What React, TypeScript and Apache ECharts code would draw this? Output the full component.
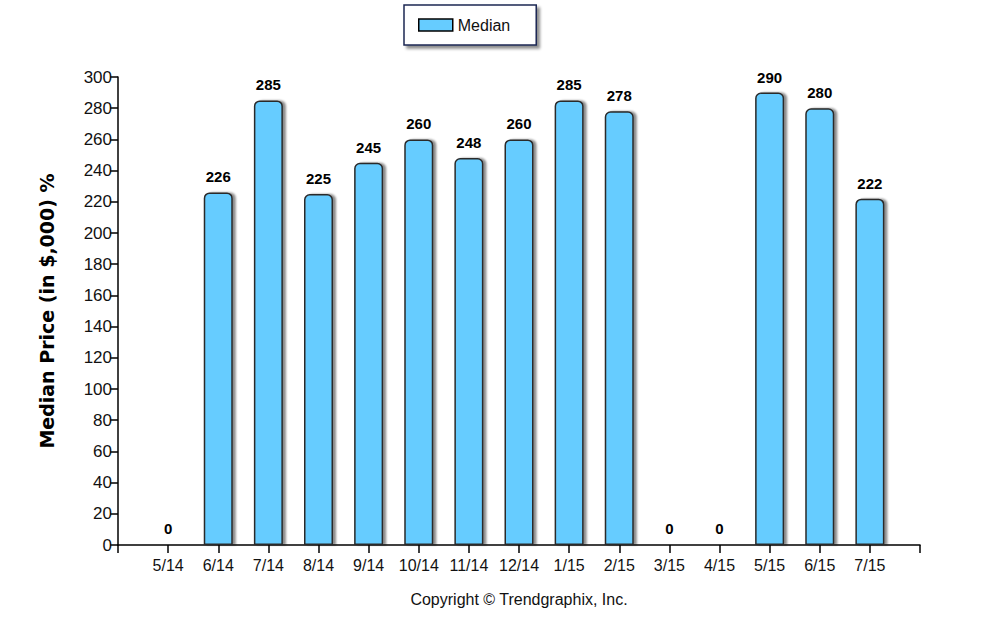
import React, { useEffect, useRef } from "react";
import * as echarts from "echarts";

const categories = ["", "5/14", "6/14", "7/14", "8/14", "9/14", "10/14", "11/14", "12/14", "1/15", "2/15", "3/15", "4/15", "5/15", "6/15", "7/15", ""];
const medianValues: (number | null)[] = [null, 0, 226, 285, 225, 245, 260, 248, 260, 285, 278, 0, 0, 290, 280, 222, null];
const seriesName = "Median";
const yAxisTitle = "Median Price (in $,000) %";
const copyright = "Copyright \u00A9 Trendgraphix, Inc.";

export default function App() {
  const ref = useRef<HTMLDivElement>(null);
  useEffect(() => {
    if (!ref.current) return;
    const chart = echarts.init(ref.current, undefined, { renderer: "svg" });
    const font = "Arial, 'Liberation Sans', sans-serif";
    chart.setOption({
      animation: false,
      backgroundColor: "#ffffff",
      grid: { left: 118, right: 66, top: 77, bottom: 87 },
      legend: {
        left: 404,
        top: 5,
        data: [seriesName],
        icon: "rect",
        itemWidth: 34,
        itemHeight: 12,
        itemGap: 6,
        padding: [12, 26, 12, 14],
        borderColor: "#1c2753",
        borderWidth: 1.5,
        borderRadius: 0,
        backgroundColor: "#ffffff",
        shadowColor: "rgba(0,0,0,0.45)",
        shadowBlur: 3,
        shadowOffsetX: 3,
        shadowOffsetY: 3,
        textStyle: { fontFamily: font, fontSize: 16, color: "#111" },
        itemStyle: { color: "#66ccff", borderColor: "#000", borderWidth: 1.5 },
      },
      xAxis: {
        type: "category",
        data: categories,
        boundaryGap: false,
        axisLine: { lineStyle: { color: "#000", width: 1.5 } },
        axisTick: { show: true, length: 8, inside: false, lineStyle: { color: "#000", width: 1.5 } },
        axisLabel: { fontFamily: font, fontSize: 16, color: "#111", margin: 12, interval: 0 },
        splitLine: { show: false },
      },
      yAxis: {
        type: "value",
        min: 0,
        max: 300,
        interval: 20,
        name: yAxisTitle,
        nameLocation: "middle",
        nameGap: 62,
        nameRotate: 90,
        nameTextStyle: { fontFamily: "'DejaVu Sans', sans-serif", fontWeight: "bold", fontSize: 19, color: "#000" },
        axisLine: { show: true, lineStyle: { color: "#000", width: 1.5 } },
        axisTick: { show: true, length: 8, lineStyle: { color: "#000", width: 1.5 } },
        axisLabel: { fontFamily: font, fontSize: 17, color: "#111", margin: 6 },
        splitLine: { show: false },
      },
      series: [
        {
          name: seriesName,
          type: "bar",
          data: medianValues,
          barWidth: 29,
          itemStyle: {
            color: "#66ccff",
            borderColor: "#2a2a2a",
            borderWidth: 1.5,
            borderRadius: [5, 5, 0, 0],
            shadowColor: "rgba(0,0,0,0.45)",
            shadowBlur: 2,
            shadowOffsetX: 3,
            shadowOffsetY: 0,
          },
          label: {
            show: true,
            position: "top",
            distance: 8,
            fontFamily: font,
            fontWeight: "bold",
            fontSize: 15,
            color: "#000",
          },
        },
      ],
      graphic: [
        {
          type: "text",
          x: 519,
          y: 599,
          style: { text: copyright, fontFamily: font, fontSize: 16, fill: "#111", align: "center", verticalAlign: "middle" },
        },
      ],
    });
    return () => chart.dispose();
  }, []);
  return <div ref={ref} style={{ width: 986, height: 632, position: "fixed", left: 0, top: 0 }} />;
}
